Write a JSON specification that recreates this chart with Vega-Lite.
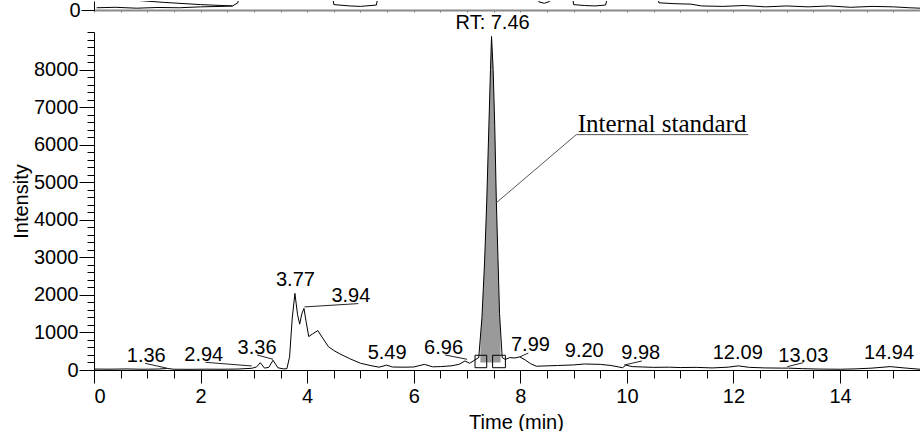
{
  "$schema": "https://vega.github.io/schema/vega-lite/v6.json",
  "padding": {"left": 11, "top": 0, "right": 0, "bottom": 0},
  "background": "white",
  "spacing": 22,
  "bounds": "flush",
  "config": {
    "view": {"stroke": null},
    "font": "Liberation Sans",
    "axis": {
      "grid": false,
      "domainColor": "#000",
      "tickColor": "#000",
      "labelColor": "#000",
      "titleColor": "#000",
      "labelFont": "Liberation Sans",
      "titleFont": "Liberation Sans",
      "labelFontSize": 20,
      "titleFontSize": 20,
      "titleFontWeight": "normal"
    }
  },
  "datasets": {
    "top": [
      {"t": 0.05, "v": 25, "s": "a"}, {"t": 0.4, "v": 30, "s": "a"}, {"t": 0.8, "v": 20, "s": "a"}, {"t": 1.2, "v": 28, "s": "a"}, {"t": 1.6, "v": 25, "s": "a"}, {"t": 2.0, "v": 35, "s": "a"}, {"t": 2.4, "v": 40, "s": "a"}, {"t": 2.6, "v": 45, "s": "a"}, {"t": 2.7, "v": 80, "s": "a"}, {"t": 2.75, "v": 300, "s": "a"},
      {"t": 4.45, "v": 300, "s": "a"}, {"t": 4.5, "v": 60, "s": "a"}, {"t": 4.8, "v": 45, "s": "a"}, {"t": 5.0, "v": 40, "s": "a"}, {"t": 5.3, "v": 55, "s": "a"}, {"t": 5.37, "v": 300, "s": "a"},
      {"t": 8.3, "v": 300, "s": "a"}, {"t": 8.35, "v": 90, "s": "a"}, {"t": 8.45, "v": 75, "s": "a"}, {"t": 8.55, "v": 95, "s": "a"}, {"t": 8.6, "v": 300, "s": "a"},
      {"t": 8.95, "v": 300, "s": "a"}, {"t": 9.0, "v": 60, "s": "a"}, {"t": 9.2, "v": 50, "s": "a"}, {"t": 9.4, "v": 45, "s": "a"}, {"t": 9.6, "v": 55, "s": "a"}, {"t": 9.7, "v": 300, "s": "a"},
      {"t": 10.55, "v": 300, "s": "a"}, {"t": 10.6, "v": 80, "s": "a"}, {"t": 10.9, "v": 70, "s": "a"}, {"t": 11.2, "v": 65, "s": "a"}, {"t": 11.4, "v": 45, "s": "a"}, {"t": 11.8, "v": 40, "s": "a"}, {"t": 12.2, "v": 50, "s": "a"}, {"t": 12.6, "v": 35, "s": "a"}, {"t": 13.0, "v": 45, "s": "a"}, {"t": 13.4, "v": 35, "s": "a"}, {"t": 13.8, "v": 45, "s": "a"}, {"t": 14.2, "v": 30, "s": "a"}, {"t": 14.6, "v": 40, "s": "a"}, {"t": 15.0, "v": 35, "s": "a"}, {"t": 15.3, "v": 25, "s": "a"}, {"t": 15.5, "v": 20, "s": "a"},
      {"t": 0.74, "v": 110, "s": "b"}, {"t": 1.3, "v": 85, "s": "b"}, {"t": 2.0, "v": 60, "s": "b"}, {"t": 2.6, "v": 45, "s": "b"}
    ],
    "trace": [
      {"t": 0.0, "i": 25}, {"t": 0.3, "i": 22}, {"t": 0.6, "i": 28}, {"t": 0.9, "i": 20}, {"t": 1.2, "i": 25}, {"t": 1.38, "i": 40}, {"t": 1.5, "i": 20}, {"t": 1.8, "i": 18}, {"t": 2.1, "i": 22}, {"t": 2.4, "i": 20}, {"t": 2.7, "i": 25}, {"t": 2.96, "i": 45}, {"t": 3.05, "i": 80}, {"t": 3.12, "i": 195}, {"t": 3.2, "i": 50}, {"t": 3.28, "i": 70}, {"t": 3.36, "i": 260}, {"t": 3.45, "i": 60}, {"t": 3.55, "i": 30}, {"t": 3.62, "i": 35}, {"t": 3.67, "i": 350}, {"t": 3.72, "i": 1380}, {"t": 3.77, "i": 2040}, {"t": 3.82, "i": 1470}, {"t": 3.86, "i": 1220}, {"t": 3.9, "i": 1500}, {"t": 3.94, "i": 1640}, {"t": 3.98, "i": 1290}, {"t": 4.03, "i": 890}, {"t": 4.1, "i": 960}, {"t": 4.2, "i": 1050}, {"t": 4.3, "i": 830}, {"t": 4.4, "i": 620}, {"t": 4.5, "i": 520}, {"t": 4.6, "i": 440}, {"t": 4.8, "i": 300}, {"t": 5.0, "i": 180}, {"t": 5.2, "i": 115}, {"t": 5.35, "i": 75}, {"t": 5.49, "i": 130}, {"t": 5.6, "i": 80}, {"t": 5.8, "i": 75}, {"t": 6.0, "i": 80}, {"t": 6.2, "i": 150}, {"t": 6.35, "i": 85}, {"t": 6.5, "i": 90}, {"t": 6.7, "i": 110}, {"t": 6.85, "i": 150}, {"t": 6.96, "i": 240}, {"t": 7.05, "i": 180}, {"t": 7.15, "i": 270}, {"t": 7.22, "i": 330}, {"t": 7.28, "i": 1400}, {"t": 7.33, "i": 2900}, {"t": 7.37, "i": 4500}, {"t": 7.41, "i": 6500}, {"t": 7.44, "i": 8000}, {"t": 7.46, "i": 8880}, {"t": 7.49, "i": 8000}, {"t": 7.52, "i": 6500}, {"t": 7.55, "i": 4500}, {"t": 7.58, "i": 3000}, {"t": 7.61, "i": 1500}, {"t": 7.66, "i": 330}, {"t": 7.72, "i": 280}, {"t": 7.8, "i": 330}, {"t": 7.9, "i": 320}, {"t": 7.99, "i": 350}, {"t": 8.1, "i": 260}, {"t": 8.19, "i": 170}, {"t": 8.3, "i": 100}, {"t": 8.5, "i": 110}, {"t": 8.7, "i": 120}, {"t": 9.0, "i": 135}, {"t": 9.2, "i": 160}, {"t": 9.5, "i": 150}, {"t": 9.7, "i": 120}, {"t": 9.85, "i": 80}, {"t": 9.92, "i": 60}, {"t": 9.98, "i": 130}, {"t": 10.1, "i": 90}, {"t": 10.3, "i": 80}, {"t": 10.5, "i": 70}, {"t": 10.8, "i": 75}, {"t": 11.0, "i": 65}, {"t": 11.3, "i": 70}, {"t": 11.6, "i": 55}, {"t": 11.9, "i": 75}, {"t": 12.09, "i": 110}, {"t": 12.3, "i": 70}, {"t": 12.6, "i": 55}, {"t": 12.9, "i": 50}, {"t": 13.03, "i": 50}, {"t": 13.3, "i": 35}, {"t": 13.6, "i": 25}, {"t": 14.0, "i": 20}, {"t": 14.3, "i": 30}, {"t": 14.6, "i": 50}, {"t": 14.94, "i": 90}, {"t": 15.2, "i": 55}, {"t": 15.5, "i": 20}
    ],
    "peak": [
      {"t": 7.25, "i": 800}, {"t": 7.28, "i": 1400}, {"t": 7.33, "i": 2900}, {"t": 7.37, "i": 4500}, {"t": 7.41, "i": 6500}, {"t": 7.44, "i": 8000}, {"t": 7.46, "i": 8880}, {"t": 7.49, "i": 8000}, {"t": 7.52, "i": 6500}, {"t": 7.55, "i": 4500}, {"t": 7.58, "i": 3000}, {"t": 7.61, "i": 1500}, {"t": 7.63, "i": 900}
    ],
    "boxes": [
      {"t1": 7.15, "t2": 7.37, "i1": 61, "i2": 392},
      {"t1": 7.48, "t2": 7.72, "i1": 61, "i2": 392}
    ],
    "leaders": [
      {"t1": 0.96, "i1": 178, "t2": 1.38, "i2": 45, "g": "peak"},
      {"t1": 2.09, "i1": 205, "t2": 2.96, "i2": 107, "g": "peak"},
      {"t1": 3.06, "i1": 400, "t2": 3.36, "i2": 285, "g": "peak"},
      {"t1": 3.95, "i1": 1680, "t2": 4.96, "i2": 1768, "g": "peak"},
      {"t1": 6.59, "i1": 400, "t2": 7.0, "i2": 285, "g": "peak"},
      {"t1": 8.15, "i1": 450, "t2": 7.99, "i2": 350, "g": "peak"},
      {"t1": 10.28, "i1": 240, "t2": 9.95, "i2": 133, "g": "peak"},
      {"t1": 13.31, "i1": 195, "t2": 13.01, "i2": 88, "g": "peak"},
      {"t1": 9.05, "i1": 6267, "t2": 12.28, "i2": 6267, "g": "std"},
      {"t1": 9.05, "i1": 6267, "t2": 7.55, "i2": 4454, "g": "std"}
    ],
    "labels": [
      {"t": 0.98, "i": 203, "label": "1.36"},
      {"t": 2.06, "i": 235, "label": "2.94"},
      {"t": 3.06, "i": 427, "label": "3.36"},
      {"t": 3.78, "i": 2227, "label": "3.77"},
      {"t": 4.82, "i": 1808, "label": "3.94"},
      {"t": 5.5, "i": 293, "label": "5.49"},
      {"t": 6.56, "i": 421, "label": "6.96"},
      {"t": 8.19, "i": 515, "label": "7.99"},
      {"t": 9.2, "i": 336, "label": "9.20"},
      {"t": 10.26, "i": 293, "label": "9.98"},
      {"t": 12.08, "i": 293, "label": "12.09"},
      {"t": 13.31, "i": 221, "label": "13.03"},
      {"t": 14.92, "i": 293, "label": "14.94"},
      {"t": 7.48, "i": 9081, "label": "RT: 7.46"}
    ],
    "std": [
      {"t": 10.66, "i": 6328, "label": "Internal standard"}
    ]
  },
  "vconcat": [
    {
      "width": 826,
      "height": 9,
      "data": {"name": "top"},
      "mark": {"type": "line", "color": "#000", "strokeWidth": 1, "clip": true},
      "encoding": {
        "x": {"field": "t", "type": "quantitative", "scale": {"domain": [0, 15.5], "nice": false, "zero": false},
              "axis": {"labels": false, "title": null, "values": [0,0.5,1,1.5,2,2.5,3,3.5,4,4.5,5,5.5,6,6.5,7,7.5,8,8.5,9,9.5,10,10.5,11,11.5,12,12.5,13,13.5,14,14.5,15,15.5], "tickSize": 2, "tickColor": "#777", "domainColor": "#8a8a8a", "domainWidth": 2}},
        "y": {"field": "v", "type": "quantitative", "scale": {"domain": [0, 100], "nice": false},
              "axis": {"values": [0], "title": null, "tickSize": 13, "labelPadding": 1}},
        "detail": {"field": "s"}
      }
    },
    {
      "width": 826,
      "height": 338,
      "resolve": {"axis": {"x": "independent", "y": "independent"}},
      "layer": [
        {
          "data": {"name": "peak"},
          "mark": {"type": "area", "color": "#9a9a9a", "opacity": 1},
          "encoding": {
            "x": {"field": "t", "type": "quantitative", "scale": {"domain": [0, 15.5], "nice": false, "zero": false},
                  "axis": {"orient": "bottom", "values": [0,2,4,6,8,10,12,14], "tickSize": 13, "labelPadding": 3, "title": "Time (min)", "titlePadding": 6, "titleX": 422, "format": "d"}},
            "y": {"field": "i", "type": "quantitative", "scale": {"domain": [0, 9000], "nice": false},
                  "axis": {"orient": "left", "values": [0,1000,2000,3000,4000,5000,6000,7000,8000], "tickSize": 15, "labelPadding": 1, "title": "Intensity", "titlePadding": 2, "format": "d"}},
            "y2": {"datum": 200}
          }
        },
        {
          "data": {"name": "trace"},
          "mark": {"type": "line", "color": "#000", "strokeWidth": 1},
          "encoding": {
            "x": {"field": "t", "type": "quantitative",
                  "axis": {"orient": "bottom", "values": [0,0.5,1,1.5,2,2.5,3,3.5,4,4.5,5,5.5,6,6.5,7,7.5,8,8.5,9,9.5,10,10.5,11,11.5,12,12.5,13,13.5,14,14.5,15,15.5], "tickSize": 8, "labels": false, "domain": false, "title": null}},
            "y": {"field": "i", "type": "quantitative",
                  "axis": {"orient": "left", "values": [0,200,400,600,800,1000,1200,1400,1600,1800,2000,2200,2400,2600,2800,3000,3200,3400,3600,3800,4000,4200,4400,4600,4800,5000,5200,5400,5600,5800,6000,6200,6400,6600,6800,7000,7200,7400,7600,7800,8000,8200,8400,8600,8800,9000], "tickSize": 7, "labels": false, "domain": false, "title": null}}
          }
        },
        {
          "data": {"name": "boxes"},
          "mark": {"type": "rect", "fill": null, "fillOpacity": 0, "stroke": "#000", "strokeWidth": 1},
          "encoding": {
            "x": {"field": "t1", "type": "quantitative", "axis": null},
            "x2": {"field": "t2"},
            "y": {"field": "i1", "type": "quantitative", "axis": null},
            "y2": {"field": "i2"}
          }
        },
        {
          "data": {"name": "leaders"},
          "mark": {"type": "rule", "strokeWidth": 1},
          "encoding": {
            "x": {"field": "t1", "type": "quantitative", "axis": null},
            "x2": {"field": "t2"},
            "y": {"field": "i1", "type": "quantitative", "axis": null},
            "y2": {"field": "i2"},
            "color": {"field": "g", "type": "nominal", "scale": {"domain": ["peak", "std"], "range": ["#222", "#555"]}, "legend": null}
          }
        },
        {
          "data": {"name": "labels"},
          "mark": {"type": "text", "font": "Liberation Sans", "fontSize": 20, "color": "#000", "align": "center", "baseline": "alphabetic"},
          "encoding": {
            "x": {"field": "t", "type": "quantitative", "axis": null},
            "y": {"field": "i", "type": "quantitative", "axis": null},
            "text": {"field": "label"}
          }
        },
        {
          "data": {"name": "std"},
          "mark": {"type": "text", "font": "Liberation Serif", "fontSize": 25, "color": "#000", "align": "center", "baseline": "alphabetic"},
          "encoding": {
            "x": {"field": "t", "type": "quantitative", "axis": null},
            "y": {"field": "i", "type": "quantitative", "axis": null},
            "text": {"field": "label"}
          }
        }
      ]
    }
  ]
}
